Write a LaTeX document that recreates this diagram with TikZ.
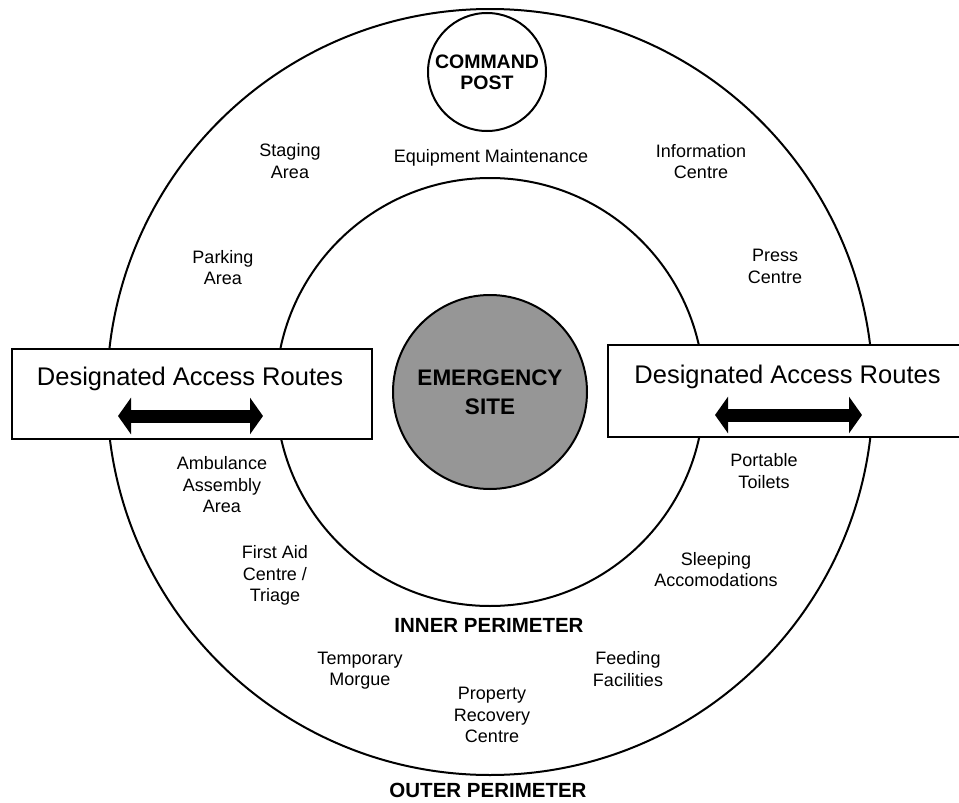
\documentclass[tikz,border=0pt]{standalone}
\usepackage{fontspec}
\setmainfont{Liberation Sans}
\usetikzlibrary{arrows.meta}
\definecolor{sitegray}{RGB}{150,150,150}
\begin{document}
\begin{tikzpicture}[x=1pt,y=-1pt,
  ring/.style={draw=black,line width=2pt,circle,inner sep=0pt},
  zonetext/.style={font=\fontsize{18}{21.5}\selectfont,align=center,inner sep=0pt},
  perim/.style={font=\bfseries\fontsize{20.5}{24}\selectfont,inner sep=0pt},
  routebox/.style={draw=black,line width=1.8pt,fill=white},
  routetext/.style={font=\fontsize{25.5}{30}\selectfont,inner sep=0pt},
  routearrow/.style={line width=13pt,
    {Triangle[width=36pt,length=13pt]}-{Triangle[width=36pt,length=13pt]}}
]
\useasboundingbox (0,0) rectangle (959,803);
\clip (0,0) rectangle (959,803);

% perimeters
\node[ring,minimum size=766pt] (outer) at (490,392) {};
\node[ring,minimum size=428pt] (inner) at (490,392) {};

% emergency site and command post
\node[ring,fill=sitegray,minimum size=194pt,align=center,
      font=\bfseries\fontsize{22.5}{29}\selectfont] (site) at (490,392)
      {EMERGENCY\\SITE};
\node[ring,fill=white,minimum size=118pt,align=center,
      font=\bfseries\fontsize{19.5}{21}\selectfont] (post) at (487,72)
      {COMMAND\\POST};

% designated access routes
\draw[routebox] (12,349) rectangle (372,439);
\draw[routebox] (608,345) rectangle (970,437);
\node[routetext] (routeW) at (190,378.5) {Designated Access Routes};
\node[routetext] (routeE) at (787.5,377) {Designated Access Routes};
\coordinate (wL) at (118,416);
\coordinate (wR) at (263,416);
\coordinate (eL) at (715,415);
\coordinate (eR) at (862,415);
\draw[routearrow] (wL) -- (wR);
\draw[routearrow] (eL) -- (eR);

% zone labels between the perimeters
\node[zonetext] (staging) at (290,161) {Staging\\Area};
\node[zonetext] (equip) at (491,157.5) {Equipment Maintenance};
\node[zonetext] (info) at (701,161.5) {Information\\Centre};
\node[zonetext] (parking) at (223,267.5) {Parking\\Area};
\node[zonetext] (press) at (775,266.5) {Press\\Centre};
\node[zonetext] (ambulance) at (222,485) {Ambulance\\Assembly\\Area};
\node[zonetext] (toilets) at (764,471) {Portable\\Toilets};
\node[zonetext] (firstaid) at (275,575.5) {First Aid\\Centre /\\Triage};
\node[zonetext] (sleeping) at (716,569.5) {Sleeping\\Accomodations};
\node[zonetext] (morgue) at (360,670.5) {Temporary\\Morgue};
\node[zonetext] (feeding) at (628,669) {Feeding\\Facilities};
\node[zonetext] (property) at (492,715) {Property\\Recovery\\Centre};

% perimeter names
\node[perim] (innername) at (489,625.5) {INNER PERIMETER};
\node[perim] (outername) at (488,790) {OUTER PERIMETER};
\end{tikzpicture}
\end{document}
